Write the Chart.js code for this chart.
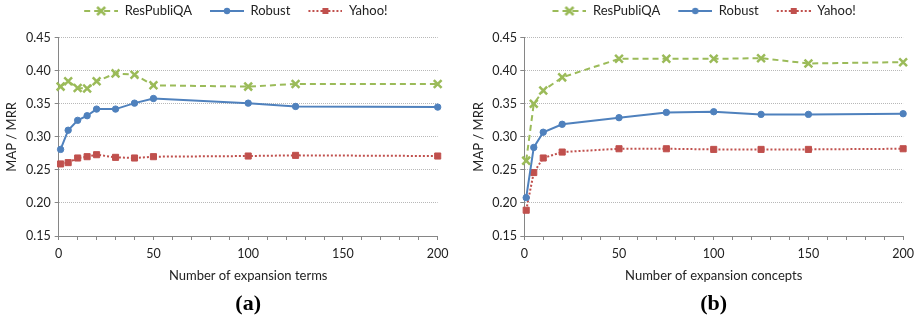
<!DOCTYPE html>
<html>
<head>
<meta charset="utf-8">
<script src="https://cdn.jsdelivr.net/npm/chart.js@4"></script>
<style>
  body { margin: 0; background: #fff; }
  .panel { position: absolute; top: 0; width: 460px; height: 326px; }
</style>
</head>
<body>
<div class="panel" style="left:0"><canvas id="chartA" width="460" height="326"></canvas></div>
<div class="panel" style="left:460px"><canvas id="chartB" width="460" height="326"></canvas></div>
<script>
const seriesNames = ['ResPubliQA', 'Robust', 'Yahoo!']

// (a) expansion terms
const termsX = [1, 5, 10, 15, 20, 30, 40, 50, 100, 125, 200]
const termsResPubliQA = [0.376, 0.384, 0.374, 0.373, 0.384, 0.396, 0.394, 0.378, 0.376, 0.380, 0.380]
const termsRobust = [0.281, 0.310, 0.325, 0.332, 0.342, 0.342, 0.351, 0.358, 0.351, 0.346, 0.345]
const termsYahoo = [0.259, 0.261, 0.268, 0.270, 0.273, 0.269, 0.268, 0.270, 0.271, 0.272, 0.271]

// (b) expansion concepts
const conceptsX = [1, 5, 10, 20, 50, 75, 100, 125, 150, 200]
const conceptsResPubliQA = [0.264, 0.350, 0.370, 0.390, 0.418, 0.418, 0.418, 0.419, 0.411, 0.413]
const conceptsRobust = [0.208, 0.284, 0.307, 0.319, 0.329, 0.337, 0.338, 0.334, 0.334, 0.335]
const conceptsYahoo = [0.189, 0.246, 0.268, 0.277, 0.282, 0.282, 0.281, 0.281, 0.281, 0.282]

const yTicks = [0.15, 0.20, 0.25, 0.30, 0.35, 0.40, 0.45]

const green = '#9BBB59'
const blue = '#4F81BD'
const red = '#C0504D'
const axisGray = '#868686'
const font = 'Lato'

const styles = [
  { color: green, dash: [6, 4], pointStyle: 'crossRot', radius: 5.5, pointBorderWidth: 2.5 },
  { color: blue, dash: [], pointStyle: 'circle', radius: 3.2, pointBorderWidth: 1 },
  { color: red, dash: [2, 2], pointStyle: 'rect', radius: 4.3, pointBorderWidth: 1 }
]

// legend sample: line with marker in the middle, like the spreadsheet legend
function legendSample(i) {
  const s = styles[i]
  const c = document.createElement('canvas')
  c.width = 48; c.height = 12
  const g = c.getContext('2d')
  g.strokeStyle = s.color; g.fillStyle = s.color; g.lineWidth = 2
  g.setLineDash(s.dash)
  g.beginPath(); g.moveTo(14, 6); g.lineTo(48, 6); g.stroke()
  g.setLineDash([])
  const cx = 31, cy = 6
  if (s.pointStyle === 'crossRot') {
    g.lineWidth = 2.5
    g.beginPath(); g.moveTo(cx - 4, cy - 4); g.lineTo(cx + 4, cy + 4)
    g.moveTo(cx + 4, cy - 4); g.lineTo(cx - 4, cy + 4); g.stroke()
  } else if (s.pointStyle === 'circle') {
    g.beginPath(); g.arc(cx, cy, 3.2, 0, Math.PI * 2); g.fill()
  } else {
    g.fillRect(cx - 3, cy - 3, 6, 6)
  }
  return c
}
const samples = [0, 1, 2].map(legendSample)

function makeDatasets(xs, seriesList) {
  return seriesList.map((vals, i) => ({
    label: seriesNames[i],
    data: xs.map((x, k) => ({ x: x, y: vals[k] })),
    borderColor: styles[i].color,
    backgroundColor: styles[i].color,
    borderDash: styles[i].dash,
    borderWidth: 2,
    pointStyle: styles[i].pointStyle,
    pointRadius: styles[i].radius,
    pointBorderWidth: styles[i].pointBorderWidth,
    pointBackgroundColor: styles[i].color,
    pointBorderColor: styles[i].color,
    tension: 0,
    clip: false
  }))
}

// axisLeft = x of the y axis line; leftPad shifts the centred legend
function makeChart(id, xs, seriesList, xTitle, caption, axisLeft, leftPad, yTitleX, yTickPad, rightPad) {
  return new Chart(document.getElementById(id), {
    type: 'line',
    data: { datasets: makeDatasets(xs, seriesList) },
    options: {
      responsive: false,
      animation: false,
      devicePixelRatio: 1,
      layout: { padding: { top: 0.5, right: rightPad, bottom: 8.8, left: leftPad } },
      plugins: {
        tooltip: { enabled: false },
        legend: {
          position: 'top',
          labels: {
            usePointStyle: true,
            pointStyleWidth: 48,
            padding: 4,
            color: '#222',
            font: { family: font, size: 13 },
            generateLabels: chart => Chart.defaults.plugins.legend.labels.generateLabels(chart)
              .map((item, i) => Object.assign(item, { pointStyle: samples[i] }))
          }
        },
        // thin spacer between legend and plot
        subtitle: {
          display: true, text: '', position: 'top', weight: 500,
          font: { size: 1 }, padding: { top: 0, bottom: 9 }
        },
        title: {
          display: true,
          text: caption,
          position: 'bottom',
          fullSize: false,
          color: '#000',
          font: { family: 'Liberation Serif', size: 22, weight: 'bold' },
          padding: { top: 7.4, bottom: 0 }
        }
      },
      scales: {
        x: {
          type: 'linear',
          min: 0,
          max: 200,
          afterFit: s => { s.height = 47.4 },
          ticks: {
            stepSize: 10,
            autoSkip: false,
            maxRotation: 0,
            padding: 6,
            color: '#222',
            font: { family: font, size: 12.5 },
            callback: v => (v % 50 === 0 ? String(v) : '')
          },
          grid: { drawOnChartArea: false, drawTicks: true, tickLength: 4, color: axisGray },
          border: { display: true, color: axisGray, width: 1 },
          title: {
            display: true, text: xTitle, color: '#222',
            font: { family: font, size: 13 }, padding: { top: 0, bottom: 0 }
          }
        },
        y: {
          min: 0.15,
          max: 0.45,
          afterFit: s => { s.width = axisLeft - leftPad },
          afterBuildTicks: s => { s.ticks = yTicks.map(v => ({ value: v })) },
          ticks: {
            padding: yTickPad,
            color: '#222',
            font: { family: font, size: 12.5 },
            callback: v => v.toFixed(2)
          },
          grid: {
            color: c => (c.tick && c.tick.value < 0.16 ? 'rgba(0,0,0,0)' : '#b8b8b8'),
            tickColor: axisGray,
            tickLength: 4,
            lineWidth: 1
          },
          border: { display: true, color: axisGray, width: 1, dash: [1, 1] },
          title: {
            display: true, text: 'MAP / MRR', color: '#222',
            font: { family: font, size: 13 },
            padding: { top: yTitleX - leftPad - 7.8, bottom: 0 }
          }
        }
      }
    }
  })
}

makeChart('chartA', termsX, [termsResPubliQA, termsRobust, termsYahoo],
  'Number of expansion terms', '(a)', 58.7, 20, 12, 4, 22.3)
makeChart('chartB', conceptsX, [conceptsResPubliQA, conceptsRobust, conceptsYahoo],
  'Number of expansion concepts', '(b)', 64.3, 30, 19, 3.3, 15.7)
</script>
</body>
</html>
